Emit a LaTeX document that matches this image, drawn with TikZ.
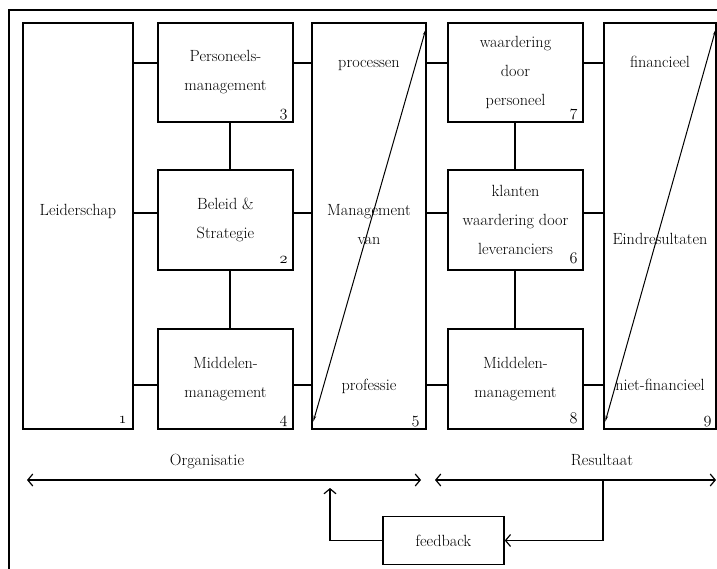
\RequirePackage{fix-cm}
\documentclass[tikz,border=0pt]{standalone}
\usepackage{fontspec}
\usetikzlibrary{arrows.meta}
\newcommand\fsmain{\fontsize{16.2}{29}\selectfont}
\newcommand\onumx[1]{$\mathnormal{#1}$}
\begin{document}
\begin{tikzpicture}[x=1pt,y=-1pt,
  box/.style={draw,line width=1.5pt,inner sep=0pt,align=center,font=\fsmain},
  tall/.style={box,minimum height=406pt},
  small/.style={box,minimum width=135pt,minimum height=100pt},
  lbl/.style={font=\fsmain,inner sep=0pt,anchor=base},
  num/.style={font=\fsmain,inner sep=0pt,anchor=base east},
  conn/.style={line width=1.5pt},
  diag/.style={line width=1pt,{Stealth[length=6pt,width=2.5pt]}-{Stealth[length=6pt,width=2.5pt]}},
  barb/.style={line width=1.2pt},
  barbtip/.tip={Straight Barb[length=5pt,width=12pt,line width=1.2pt]}
]
\useasboundingbox (0,0) rectangle (717,569);
% outer frame (cropped)
\draw[line width=1.3pt] (9,575) -- (9,10) -- (725,10);

% boxes
\node[tall,minimum width=110pt] (b1) at (78,226) {};
\node[small,minimum height=99pt] (b3) at (225.5,72.5) {Personeels-\\management};
\node[small] (b2) at (225.5,220) {Beleid \&\\Strategie};
\node[small] (b4) at (225.5,379) {Middelen-\\management};
\node[tall,minimum width=114pt] (b5) at (369,226) {};
\node[small,minimum height=99pt] (b7) at (515.5,72.5) {waardering\\door\\personeel};
\node[small] (b6) at (515.5,220) {klanten\\waardering door\\leveranciers};
\node[small] (b8) at (515.5,379) {Middelen-\\management};
\node[tall,minimum width=112pt] (b9) at (660,226) {};

% texts in tall boxes
\node[lbl] (t1) at (78,216) {Leiderschap};
\node[lbl] (t5a) at (369,68) {processen};
\node[lbl] (t5b) at (369,216) {Management};
\node[lbl] (t5c) at (369,244) {van};
\node[lbl] (t5d) at (369,390) {professie};
\node[lbl] (t9a) at (660,68) {financieel};
\node[lbl] (t9b) at (660,244) {Eindresultaten};
\node[lbl] (t9c) at (660,390) {niet-financieel};

% numbers
\node[num] (n1) at ([shift={(-7,-6)}]b1.south east) {\onumx{1}};
\node[num] (n3) at ([shift={(-6,-6)}]b3.south east) {\onumx{3}};
\node[num] (n2) at ([shift={(-6,-7)}]b2.south east) {\onumx{2}};
\node[num] (n4) at ([shift={(-6,-6)}]b4.south east) {\onumx{4}};
\node[num] (n5) at ([shift={(-7,-6)}]b5.south east) {\onumx{5}};
\node[num] (n7) at ([shift={(-6,-6)}]b7.south east) {\onumx{7}};
\node[num] (n6) at ([shift={(-6,-7)}]b6.south east) {\onumx{6}};
\node[num] (n8) at ([shift={(-6,-6)}]b8.south east) {\onumx{8}};
\node[num] (n9) at ([shift={(-5,-6)}]b9.south east) {\onumx{9}};

% rows / columns
\coordinate (r1) at (0,63);
\coordinate (r2) at (0,213);
\coordinate (r3) at (0,385);
\coordinate (cL) at (230,0);
\coordinate (cR) at (515,0);

% horizontal connectors
\foreach \a/\b/\r in {b1/b3/r1,b3/b5/r1,b5/b7/r1,b7/b9/r1,
                      b1/b2/r2,b2/b5/r2,b5/b6/r2,b6/b9/r2,
                      b1/b4/r3,b4/b5/r3,b5/b8/r3,b8/b9/r3}
  \draw[conn] (\a.east |- \r) -- (\b.west |- \r);

% vertical connectors
\draw[conn] (b3.south -| cL) -- (b2.north -| cL);
\draw[conn] (b2.south -| cL) -- (b4.north -| cL);
\draw[conn] (b7.south -| cR) -- (b6.north -| cR);
\draw[conn] (b6.south -| cR) -- (b8.north -| cR);

% diagonals
\draw[diag] ([shift={(2,-8)}]b5.south west) -- ([shift={(-1,7)}]b5.north east);
\draw[diag] ([shift={(2,-8)}]b9.south west) -- ([shift={(-1,7)}]b9.north east);

% bottom span arrows
\coordinate (oL) at (27,480);
\coordinate (oR) at (421,480);
\coordinate (rL) at (435,480);
\coordinate (rR) at (716,480);
\draw[barb,barbtip-barbtip] (oL) -- (oR);
\draw[barb,barbtip-barbtip] (rL) -- (rR);
\node[lbl] (org) at (207,465) {Organisatie};
\node[lbl] (res) at (602,465) {Resultaat};

% feedback
\node[box,minimum width=121pt,minimum height=48pt] (fb) at (443.5,540.5) {feedback};
\coordinate (j) at (603,480);
\coordinate (u) at (330,488);
\draw[conn,-barbtip] (j) |- (fb.east);
\draw[conn,-barbtip] (fb.west) -| (u);
\end{tikzpicture}
\end{document}
